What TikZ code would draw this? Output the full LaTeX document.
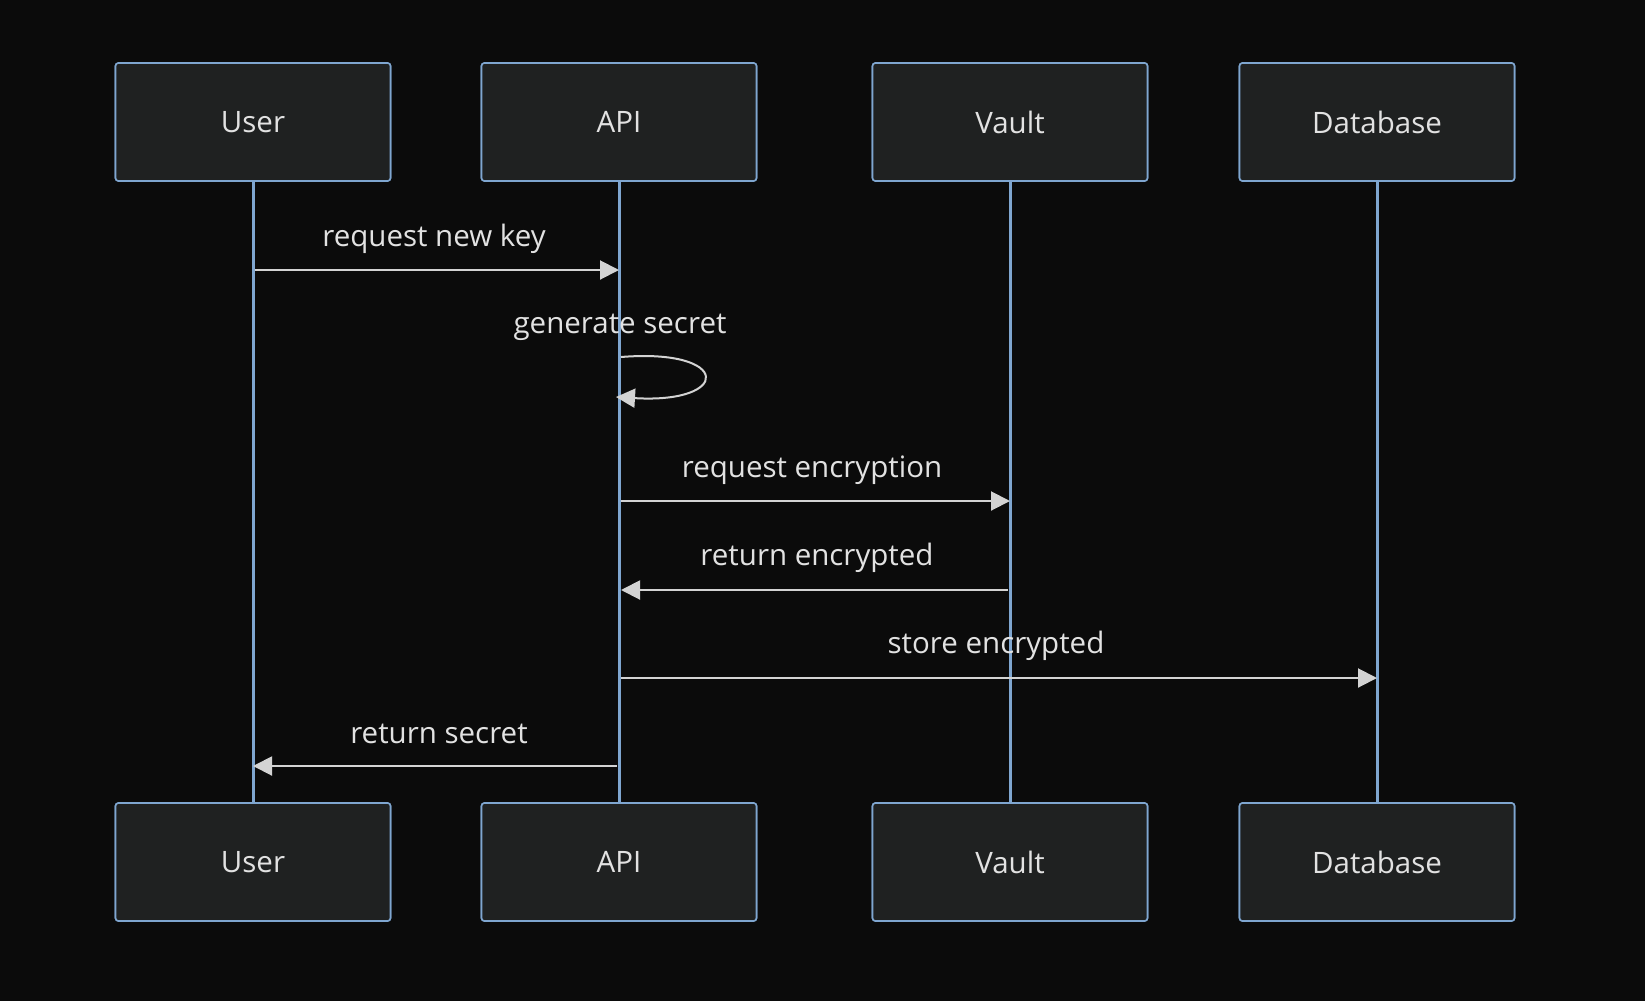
\documentclass[tikz,border=0pt]{standalone}
\usepackage{fontspec}
\setmainfont{Open Sans}
\usetikzlibrary{arrows.meta}
\definecolor{bg}{HTML}{0B0B0B}
\definecolor{boxfill}{HTML}{1F2121}
\definecolor{boxline}{HTML}{7FA6D0}
\definecolor{msgline}{HTML}{D3D3D3}
\definecolor{txt}{HTML}{E2E2E2}
\begin{document}
\begin{tikzpicture}[x=1pt,y=-1pt,
  actor/.style={draw=boxline, fill=boxfill, line width=1.6pt, rounded corners=3pt,
    minimum width=275pt, minimum height=118pt, inner sep=0pt,
    text=txt, font=\fontsize{29.5}{34}\selectfont},
  life/.style={draw=boxline, line width=3pt},
  msg/.style={draw=msgline, line width=2pt, -{Triangle[length=19pt,width=19pt]}},
  lbl/.style={text=txt, font=\fontsize{29.5}{34}\selectfont, inner sep=0pt}]
\fill[bg] (0,0) rectangle (1645,1001);
\useasboundingbox (0,0) rectangle (1645,1001);
% top actors
\node[actor] (uT) at (253,122) {User};
\node[actor] (aT) at (619,122) {API};
\node[actor] (vT) at (1010,122) {Vault};
\node[actor] (dT) at (1377,122) {Database};
% bottom actors
\node[actor] (uB) at (253,862) {User};
\node[actor] (aB) at (619,862) {API};
\node[actor] (vB) at (1010,862) {Vault};
\node[actor] (dB) at (1377,862) {Database};
% lifelines
\draw[life] (uT.south) -- (uB.north);
\draw[life] (aT.south) -- (aB.north);
\draw[life] (vT.south) -- (vB.north);
\draw[life] (dT.south) -- (dB.north);
% redraw boxes over lifelines
\node[actor] at (uT) {User};
\node[actor] at (aT) {API};
\node[actor] at (vT) {Vault};
\node[actor] at (dT) {Database};
\node[actor] at (uB) {User};
\node[actor] at (aB) {API};
\node[actor] at (vB) {Vault};
\node[actor] at (dB) {Database};
% message coordinates
\coordinate (m1s) at (255,270);
\coordinate (m1e) at (619,270);
\coordinate (m2s) at (621,357);
\coordinate (m2e) at (616,397);
\coordinate (m3s) at (621,501);
\coordinate (m3e) at (1010,501);
\coordinate (m4s) at (1008,590);
\coordinate (m4e) at (621,590);
\coordinate (m5s) at (621,678);
\coordinate (m5e) at (1377,678);
\coordinate (m6s) at (617,766);
\coordinate (m6e) at (253,766);
% messages
\draw[msg] (m1s) -- (m1e);
\draw[msg] (m2s) .. controls (732,348) and (732,404) .. (m2e);
\draw[msg] (m3s) -- (m3e);
\draw[msg] (m4s) -- (m4e);
\draw[msg] (m5s) -- (m5e);
\draw[msg] (m6s) -- (m6e);
% labels
\node[lbl] (l1) at (434,239) {request new key};
\node[lbl] (l2) at (620,327) {generate secret};
\node[lbl] (l3) at (812,470) {request encryption};
\node[lbl] (l4) at (817,558) {return encrypted};
\node[lbl] (l5) at (996,646) {store encrypted};
\node[lbl] (l6) at (439,734) {return secret};
\end{tikzpicture}
\end{document}
